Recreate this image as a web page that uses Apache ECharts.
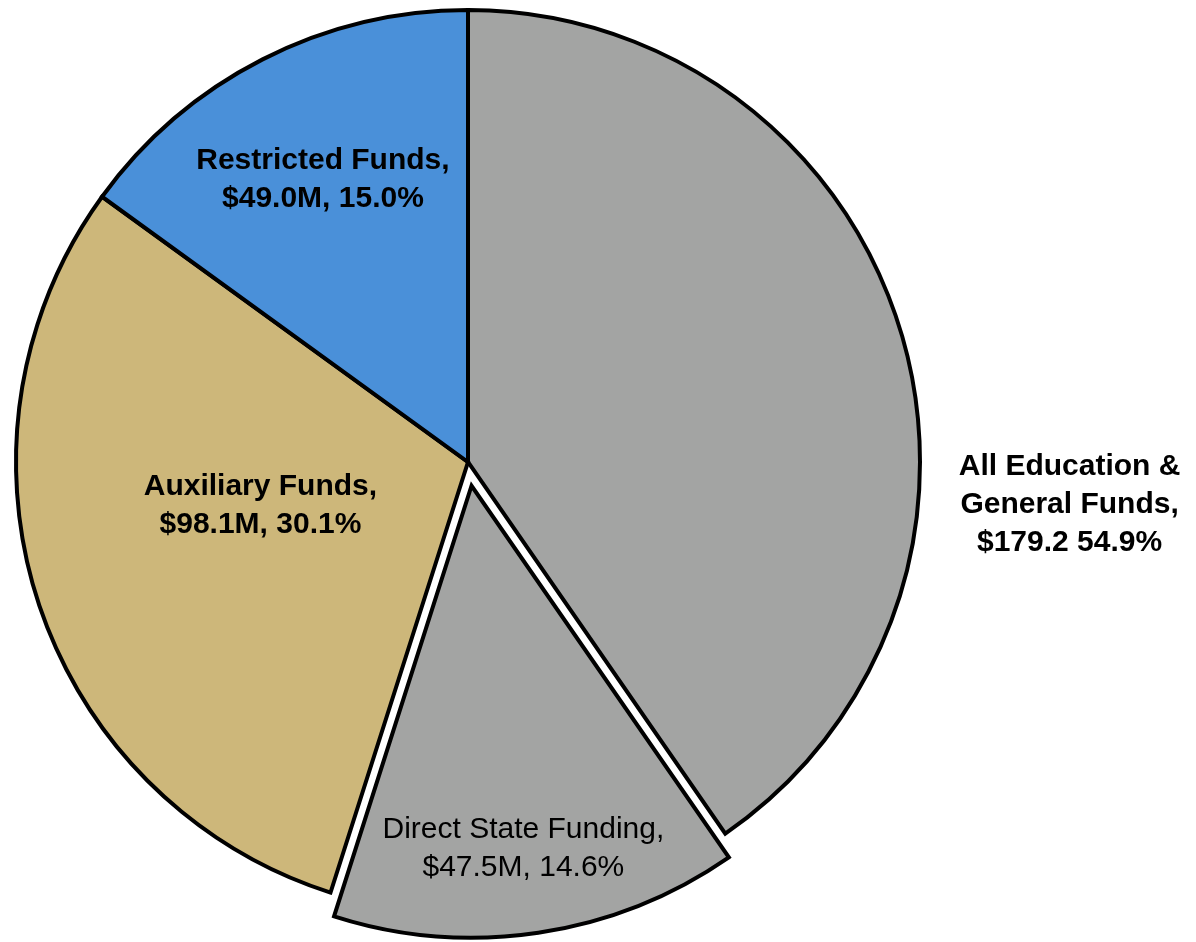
<!DOCTYPE html>
<html>
<head>
<meta charset="utf-8">
<script src="https://cdn.jsdelivr.net/npm/echarts@6/dist/echarts.min.js"></script>
<style>
  html, body { margin: 0; padding: 0; background: #ffffff; }
  #chart { width: 1196px; height: 942px; }
</style>
</head>
<body>
<div id="chart"></div>
<script>
// Fund sources ($ millions). The Education & General total includes Direct State Funding,
// which is drawn as its own (pulled-out) slice.
const sliceNames = ['All Education &\nGeneral Funds,', 'Direct State Funding,', 'Auxiliary Funds,', 'Restricted Funds,'];
const statedAmounts = [179.2, 47.5, 98.1, 49.0];
const sliceColors = ['#a3a4a3', '#a3a4a3', '#cdb77a', '#4a90d9'];

const grandTotal = statedAmounts[0] + statedAmounts[2] + statedAmounts[3];
// Slice sizes: the E&G slice shows only the part not covered by Direct State Funding
const sliceValues = [statedAmounts[0] - statedAmounts[1], statedAmounts[1], statedAmounts[2], statedAmounts[3]];

function amountText(i) {
  const pct = (statedAmounts[i] / grandTotal * 100).toFixed(1) + '%';
  const amt = '$' + statedAmounts[i].toFixed(1);
  return i === 0 ? amt + ' ' + pct : amt + 'M, ' + pct;
}

// Label shifts relative to the default inside position
const labelShift = [
  { dx: 383, dy: 111 },
  { dx: 18, dy: 137 },
  { dx: 10, dy: -28 },
  { dx: -41, dy: -78 }
];

const fontFamily = '"Liberation Sans", Arial, Helvetica, sans-serif';

const chart = echarts.init(document.getElementById('chart'), null, { renderer: 'canvas' });
chart.setOption({
  backgroundColor: '#ffffff',
  animation: false,
  series: [{
    type: 'pie',
    center: [468, 462],
    radius: [0, 452],
    startAngle: 90,
    clockwise: true,
    avoidLabelOverlap: false,
    selectedMode: 'single',
    selectedOffset: 24,
    itemStyle: { borderColor: '#000000', borderWidth: 4, borderJoin: 'miter' },
    label: {
      show: true,
      position: 'inside',
      color: '#000000',
      fontFamily: fontFamily,
      fontSize: 30,
      lineHeight: 38,
      fontWeight: 'bold',
      align: 'center',
      formatter: function (p) { return sliceNames[p.dataIndex] + '\n' + amountText(p.dataIndex); }
    },
    labelLine: { show: false },
    emphasis: { disabled: true },
    select: { itemStyle: { borderColor: '#000000', borderWidth: 4 } },
    labelLayout: function (p) { return labelShift[p.dataIndex]; },
    data: sliceValues.map(function (v, i) {
      const item = { value: v, name: sliceNames[i], itemStyle: { color: sliceColors[i] } };
      if (i === 1) {
        item.selected = true;
        item.label = { fontWeight: 'normal' };
      }
      return item;
    })
  }]
});
</script>
</body>
</html>
